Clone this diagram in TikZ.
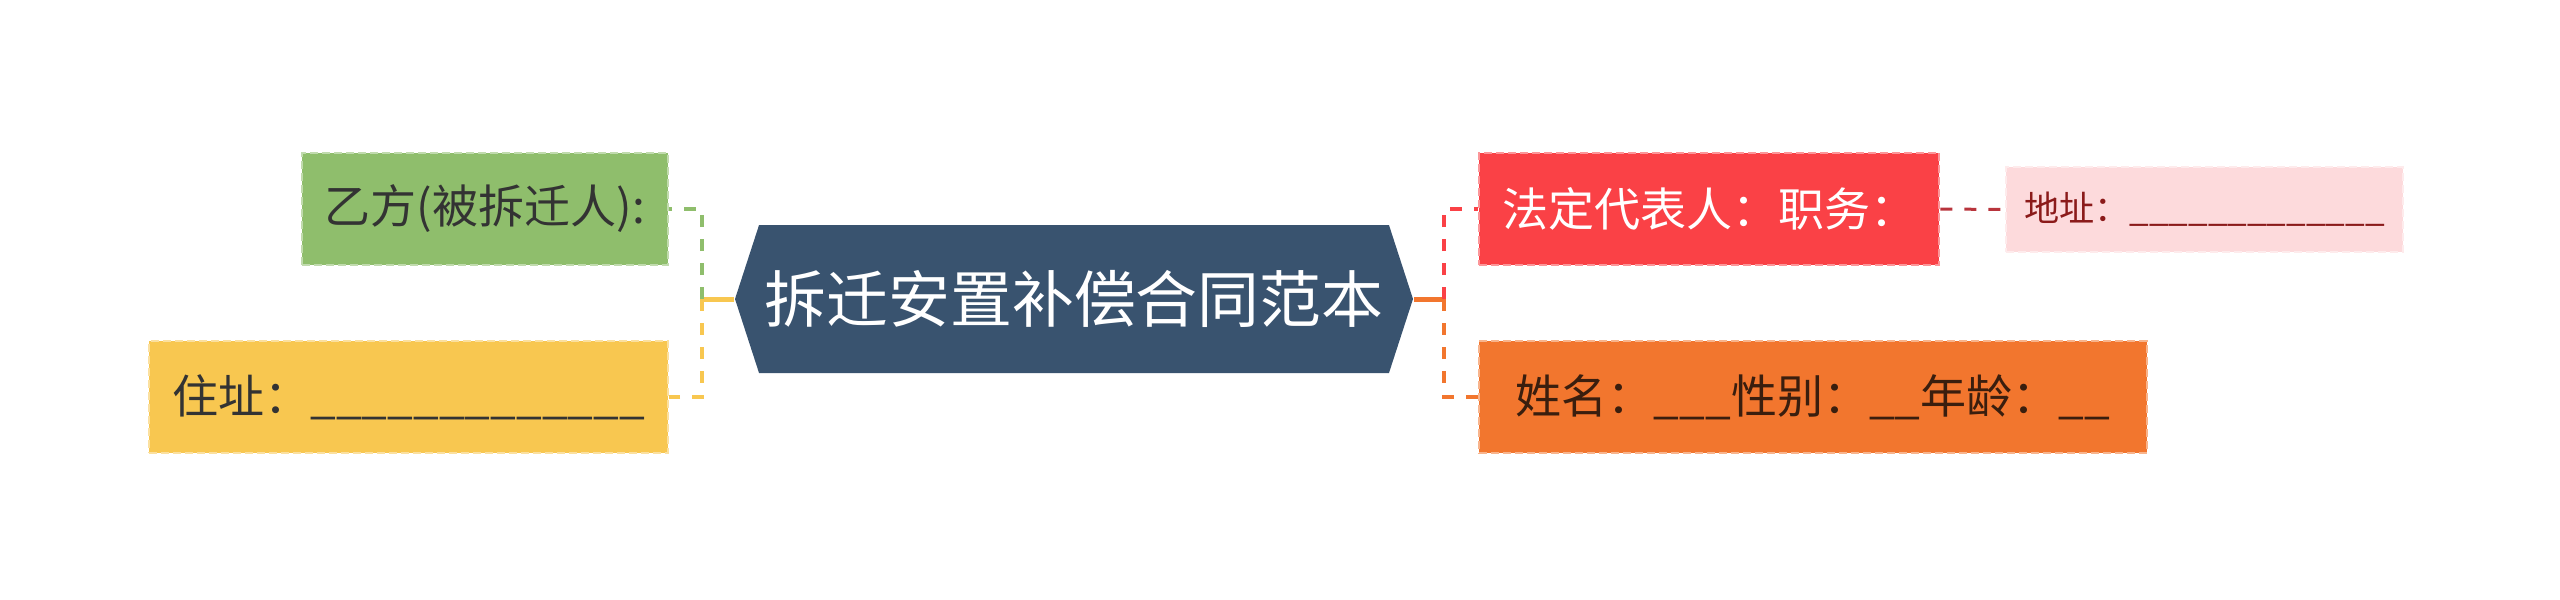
\documentclass[tikz,border=0pt]{standalone}
\usepackage{fontspec}
\setmainfont{Noto Sans CJK SC}
\usetikzlibrary{shapes.symbols}
\definecolor{rootblue}{HTML}{39536F}
\definecolor{leafgreen}{HTML}{8FBE6C}
\definecolor{leafyellow}{HTML}{F8C750}
\definecolor{leafred}{HTML}{FA4146}
\definecolor{leaforange}{HTML}{F2762E}
\definecolor{leafpink}{HTML}{FDDADC}
\definecolor{inkred}{HTML}{8B1A1A}
\definecolor{inkbrown}{HTML}{3A1E0E}
\definecolor{linkred}{HTML}{B8343C}
\begin{document}
\begin{tikzpicture}[
    leaf/.style={fill=#1, draw=#1!55!white, dashed, dash pattern=on 0.08cm off 0.04cm,
        line width=0.02cm, minimum height=1.12cm, inner xsep=0.23cm, inner ysep=0pt,
        font=\fontsize{13.1pt}{15pt}\selectfont},
    twig/.style={leaf=#1, minimum height=0.85cm, inner xsep=0.18cm,
        font=\fontsize{10pt}{12pt}\selectfont},
    dashlink/.style={draw=#1, line width=0.04cm, dash pattern=on 0.12cm off 0.12cm},
    rootlink/.style={draw=#1, line width=0.05cm}
  ]
    \useasboundingbox (0,0) rectangle (25.6,5.99);

    \node (root) [signal, signal to=east and west, signal pointer angle=144,
        minimum width=6.78cm, minimum height=1.48cm, inner sep=0pt, fill=rootblue,
        text=white, font=\fontsize{17.6pt}{20pt}\selectfont] at (10.74,3.00) {拆迁安置补偿合同范本};

    % left side
    \node (partyb) [leaf=leafgreen, text=black!80, anchor=east] at (6.69,3.90) {乙方(被拆迁人):};
    \node (addrb) [leaf=leafyellow, text=black!80, anchor=east] at (6.69,2.02) {住址：\_\_\_\_\_\_\_\_\_\_\_\_\_};
    \coordinate (lj) at (7.02,3.00);
    \draw[rootlink=leafyellow] (root.west) -- (lj);
    \draw[dashlink=leafgreen] (lj) |- (partyb.east);
    \draw[dashlink=leafyellow] (lj) |- (addrb.east);

    % right side
    \node (legal) [leaf=leafred, text=white, anchor=west] at (14.78,3.90) {法定代表人：职务：};
    \node (info) [leaf=leaforange, text=inkbrown, anchor=west, minimum width=6.68cm] at (14.78,2.02) {姓名：\_\_\_性别：\_\_年龄：\_\_};
    \node (addra) [twig=leafpink, text=inkred, anchor=west] at (20.05,3.895) {地址：\_\_\_\_\_\_\_\_\_\_\_\_\_};
    \coordinate (rj) at (14.44,3.00);
    \draw[rootlink=leaforange] (root.east) -- (rj);
    \draw[dashlink=leafred] (rj) |- (legal.west);
    \draw[dashlink=leaforange] (rj) |- (info.west);
    \draw[dashlink=linkred, line width=0.03cm] (legal.east) -- (addra.west);
\end{tikzpicture}
\end{document}
